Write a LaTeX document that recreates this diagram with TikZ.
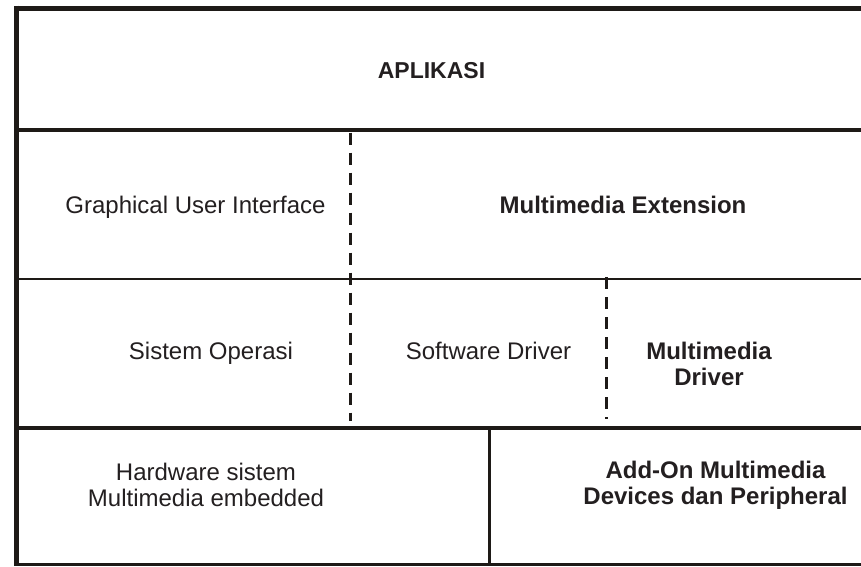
\documentclass[tikz,border=0pt]{standalone}
\usepackage{fontspec}
\setmainfont{Liberation Sans}
\definecolor{ink}{HTML}{1E1A17}
\definecolor{txt}{HTML}{231F20}
\begin{document}
\begin{tikzpicture}[x=1pt,y=-1pt,
  thickline/.style={draw=ink,line width=#1},
  dashline/.style={draw=ink,line width=3pt,dash pattern=on 12pt off 8pt},
  lbl/.style={text=txt,align=center,inner sep=0pt,font=\fontsize{24}{26}\selectfont},
  blbl/.style={lbl,font=\fontsize{24}{26}\selectfont\bfseries}]
\useasboundingbox[fill=white] (0,0) rectangle (861,566);
% frame lines
\draw[thickline=5pt] (14,8) -- (861,8);
\draw[thickline=5pt] (16.5,5.5) -- (16.5,566);
\draw[thickline=4pt] (16,130) -- (861,130);
\draw[thickline=2.5pt] (16,279) -- (861,279);
\draw[thickline=4pt] (16,427.5) -- (861,427.5);
\draw[thickline=3pt] (16,564.5) -- (861,564.5);
\draw[thickline=3pt] (489,426) -- (489,566);
% dashed separators
\draw[dashline] (350,132.5) -- (350,421);
\draw[dashline] (606,277) -- (606,419);
% labels
\node[blbl,font=\fontsize{23}{26}\selectfont\bfseries] (app) at (431.5,71) {APLIKASI};
\node[lbl] (gui) at (195.5,207) {Graphical User Interface};
\node[blbl] (mmext) at (623,205) {Multimedia Extension};
\node[lbl] (os) at (211,353) {Sistem Operasi};
\node[lbl] (swdrv) at (488.5,350.5) {Software Driver};
\node[blbl] (mmdrv) at (709,364) {Multimedia\\Driver};
\node[lbl] (hw) at (206,485.3) {Hardware sistem\\Multimedia embedded};
\node[blbl] (addon) at (715.5,485) {Add-On Multimedia\\Devices dan Peripheral};
\end{tikzpicture}
\end{document}
